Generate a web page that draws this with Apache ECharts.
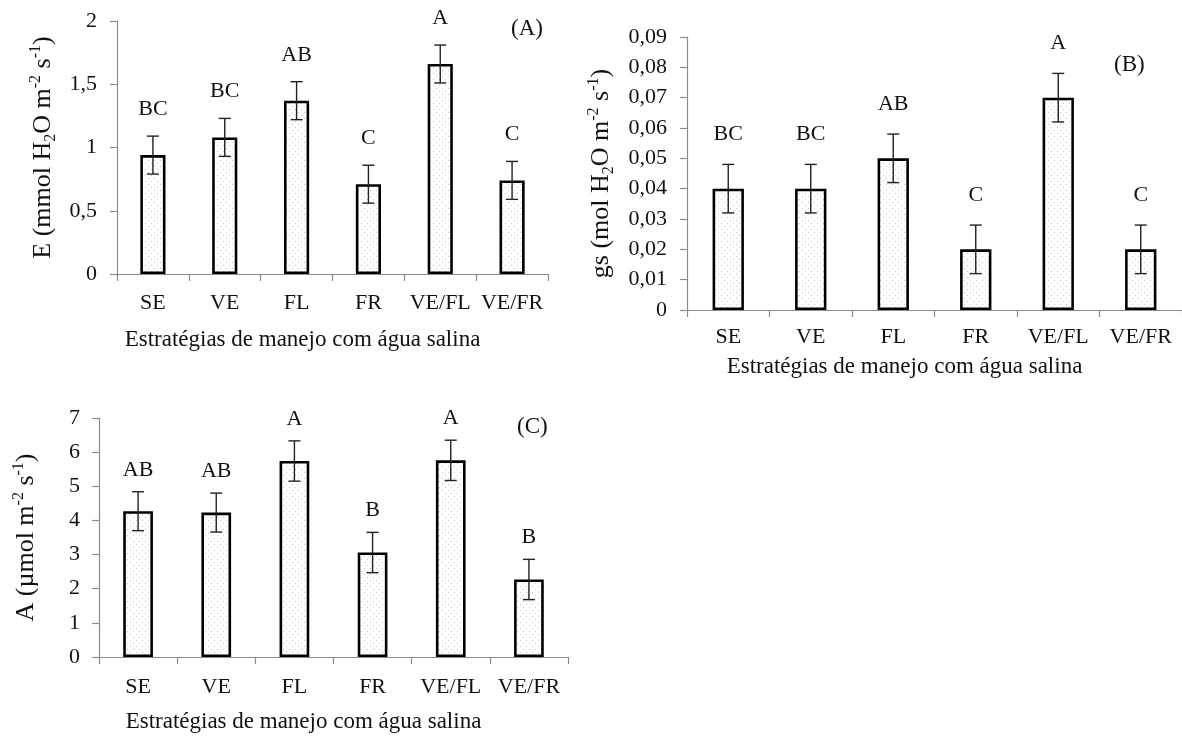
<!DOCTYPE html>
<html>
<head>
<meta charset="utf-8">
<script src="https://cdn.jsdelivr.net/npm/echarts@6/dist/echarts.min.js"></script>
<style>
html,body{margin:0;padding:0;background:#fff;}
#chart{width:1182px;height:736px;}
</style>
</head>
<body>
<div id="chart"></div>
<script>
// ---- data ----
const categories = ['SE', 'VE', 'FL', 'FR', 'VE/FL', 'VE/FR'];

const eValues  = [0.94, 1.08, 1.37, 0.71, 1.66, 0.74];
const eErrors  = [0.15, 0.15, 0.15, 0.15, 0.15, 0.15];
const eLetters = ['BC', 'BC', 'AB', 'C', 'A', 'C'];

const gsValues  = [0.040, 0.040, 0.050, 0.020, 0.070, 0.020];
const gsErrors  = [0.008, 0.008, 0.008, 0.008, 0.008, 0.008];
const gsLetters = ['BC', 'BC', 'AB', 'C', 'A', 'C'];

const aValues  = [4.27, 4.23, 5.74, 3.06, 5.76, 2.27];
const aErrors  = [0.57, 0.57, 0.59, 0.59, 0.59, 0.59];
const aLetters = ['AB', 'AB', 'A', 'B', 'A', 'B'];

const eTicks  = {min: 0, max: 2, interval: 0.5};
const gsTicks = {min: 0, max: 0.09, interval: 0.01};
const aTicks  = {min: 0, max: 7, interval: 1};

const xTitle = 'Estratégias de manejo com água salina';

// ---- style ----
const FONT = "'Liberation Serif', 'Times New Roman', serif";
const TXT = '#111';
const AXIS = '#8c8c8c';

// dotted fill pattern
const pc = document.createElement('canvas');
pc.width = 6; pc.height = 6;
const pctx = pc.getContext('2d');
pctx.fillStyle = '#ffffff';
pctx.fillRect(0, 0, 6, 6);
pctx.fillStyle = '#c8c8c8';
pctx.fillRect(1, 1, 1, 1);
pctx.fillRect(4, 4, 1, 1);
const pattern = {image: pc, repeat: 'repeat'};

const richName = {
  m: {fontFamily: FONT, fontSize: 26, color: TXT, lineHeight: 32, verticalAlign: 'middle'},
  sup: {fontFamily: FONT, fontSize: 16, color: TXT, lineHeight: 32, verticalAlign: 'top', padding: [1, 0, 0, 0]},
  sub: {fontFamily: FONT, fontSize: 16, color: TXT, lineHeight: 32, verticalAlign: 'bottom'}
};

function xAxisCfg(gridIndex, labelMargin, nameGap) {
  return {
    type: 'category', gridIndex, data: categories,
    axisLine: {lineStyle: {color: AXIS, width: 1.2}},
    axisTick: {show: true, length: 7, lineStyle: {color: AXIS, width: 1.2}},
    axisLabel: {fontFamily: FONT, fontSize: 22, color: TXT, margin: labelMargin, interval: 0},
    name: xTitle, nameLocation: 'middle', nameGap,
    nameTextStyle: {fontFamily: FONT, fontSize: 23, color: TXT, padding: [0, 60, 0, 0]}
  };
}

function yAxisCfg(gridIndex, ticks, fmt, name, nameGap, margin) {
  return {
    type: 'value', gridIndex, min: ticks.min, max: ticks.max, interval: ticks.interval,
    splitLine: {show: false},
    axisLine: {show: true, lineStyle: {color: AXIS, width: 1.2}},
    axisTick: {show: true, length: 7, lineStyle: {color: AXIS, width: 1.2}},
    axisLabel: {fontFamily: FONT, fontSize: 22, color: TXT, margin, formatter: fmt},
    name, nameLocation: 'middle', nameGap, nameRotate: 90,
    nameTextStyle: {rich: richName}
  };
}

function barSeries(idx, values, width) {
  return {
    type: 'bar', xAxisIndex: idx, yAxisIndex: idx, data: values, barWidth: width,
    itemStyle: {color: pattern, borderColor: '#000', borderWidth: 2.6},
    animation: false, silent: true
  };
}

function errSeries(idx, values, errors, letters, gap) {
  return {
    type: 'custom', xAxisIndex: idx, yAxisIndex: idx, z: 5, animation: false, silent: true,
    data: values.map((v, i) => [i, v, errors[i]]),
    renderItem: function (params, api) {
      const i = api.value(0), v = api.value(1), e = api.value(2);
      const top = api.coord([i, v + e]);
      const bot = api.coord([i, v - e]);
      const x = top[0], h = 6;
      const st = {stroke: '#222', lineWidth: 1.4};
      return {
        type: 'group',
        children: [
          {type: 'line', shape: {x1: x, y1: top[1], x2: x, y2: bot[1]}, style: st},
          {type: 'line', shape: {x1: x - h, y1: top[1], x2: x + h, y2: top[1]}, style: st},
          {type: 'line', shape: {x1: x - h, y1: bot[1], x2: x + h, y2: bot[1]}, style: st},
          {type: 'text', style: {text: letters[params.dataIndex], x: x, y: top[1] - gap,
            align: 'center', verticalAlign: 'middle', fill: TXT,
            font: '22px ' + FONT}}
        ]
      };
    }
  };
}

const fmtA = v => String(v).replace('.', ',');
const fmtB = v => (v === 0 ? '0' : v.toFixed(2).replace('.', ','));
const fmtC = v => String(v);

const option = {
  backgroundColor: '#fff',
  animation: false,
  grid: [
    {left: 117, top: 21, width: 431, height: 253},
    {left: 687, top: 37, width: 495, height: 273},
    {left: 99, top: 418, width: 469, height: 239}
  ],
  xAxis: [
    xAxisCfg(0, 18, 54),
    xAxisCfg(1, 16, 45),
    xAxisCfg(2, 19, 53)
  ],
  yAxis: [
    yAxisCfg(0, eTicks, fmtA, '{m|E (mmol H}{sub|2}{m|O m}{sup|-2}{m| s}{sup|-1}{m|)}', 58, 20),
    yAxisCfg(1, gsTicks, fmtB, '{m|gs (mol H}{sub|2}{m|O m}{sup|-2}{m| s}{sup|-1}{m|)}', 70, 20),
    yAxisCfg(2, aTicks, fmtC, '{m|A (µmol m}{sup|-2}{m| s}{sup|-1}{m|)}', 57, 19)
  ],
  series: [
    barSeries(0, eValues, '35%'),
    barSeries(1, gsValues, '38%'),
    barSeries(2, aValues, '38%'),
    errSeries(0, eValues, eErrors, eLetters, 27),
    errSeries(1, gsValues, gsErrors, gsLetters, 30),
    errSeries(2, aValues, aErrors, aLetters, 22)
  ],
  graphic: [
    {type: 'text', left: 511, top: 17, style: {text: '(A)', font: '23px ' + FONT, fill: TXT}},
    {type: 'text', left: 1114, top: 53, style: {text: '(B)', font: '23px ' + FONT, fill: TXT}},
    {type: 'text', left: 517, top: 415, style: {text: '(C)', font: '23px ' + FONT, fill: TXT}}
  ]
};

const chart = echarts.init(document.getElementById('chart'), null, {renderer: 'canvas'});
chart.setOption(option);
</script>
</body>
</html>
